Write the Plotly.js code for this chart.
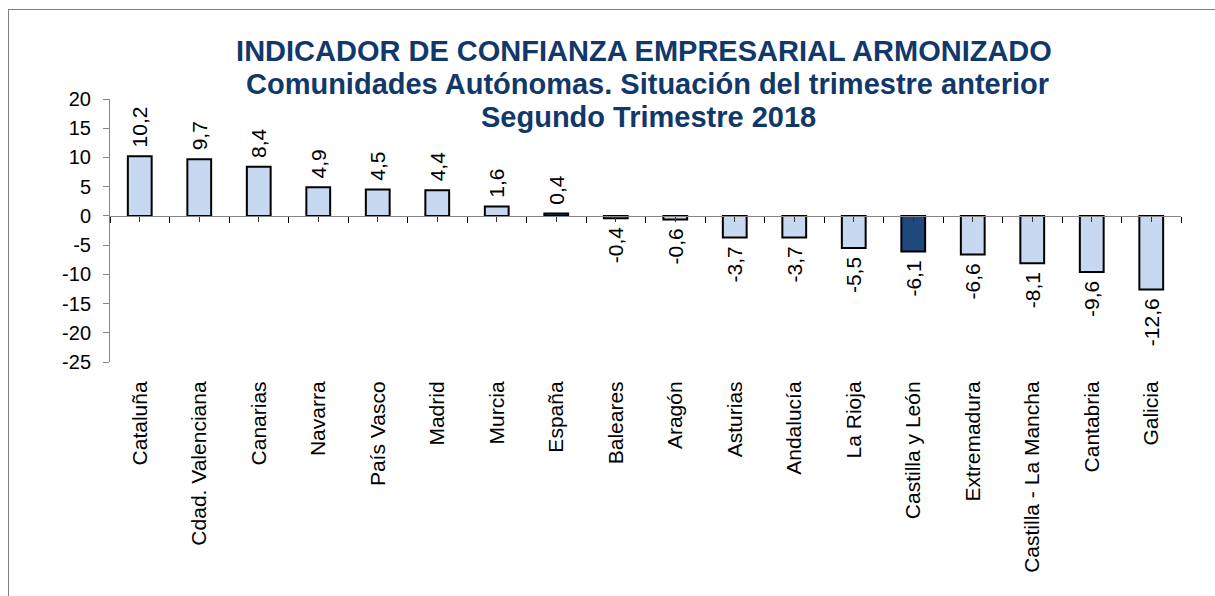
<!DOCTYPE html>
<html>
<head>
<meta charset="utf-8">
<script src="https://cdn.plot.ly/plotly-3.0.1.min.js"></script>
<style>
  html, body { margin: 0; padding: 0; width: 1215px; height: 596px; overflow: hidden; background: #fff; }
  #frame { position: absolute; left: 8px; top: 9px; width: 1400px; height: 800px; border: 1.5px solid #7f7f7f; box-sizing: border-box; pointer-events: none; z-index: 5; }
  #chart { position: absolute; left: 0; top: 0; width: 1215px; height: 596px; }
</style>
</head>
<body>
<div id="chart"></div>
<div id="frame"></div>
<script>
const categories = ["Cataluña", "Cdad. Valenciana", "Canarias", "Navarra", "País Vasco", "Madrid", "Murcia", "España", "Baleares", "Aragón", "Asturias", "Andalucía", "La Rioja", "Castilla y León", "Extremadura", "Castilla - La Mancha", "Cantabria", "Galicia"];
const values = [10.2, 9.7, 8.4, 4.9, 4.5, 4.4, 1.6, 0.4, -0.4, -0.6, -3.7, -3.7, -5.5, -6.1, -6.6, -8.1, -9.6, -12.6];
const highlighted = ["España", "Castilla y León"];
const titleLines = ["INDICADOR DE CONFIANZA EMPRESARIAL ARMONIZADO", "Comunidades Autónomas. Situación del trimestre anterior", "Segundo Trimestre 2018"];
const yTicks = [20, 15, 10, 5, 0, -5, -10, -15, -20, -25];

const lightBlue = "#C6D9F1";
const darkBlue = "#1F497D";
const titleColor = "#12386A";
const font = "Arial, 'Liberation Sans', sans-serif";
const NB = "\u00A0";

// padding space on the bar side of each rotated label
const labels = values.map(v => {
  const s = v.toFixed(1).replace(".", ",");
  return v >= 0 ? NB + s : s + NB;
});
const fills = categories.map(c => highlighted.includes(c) ? darkBlue : lightBlue);

const bars = {
  type: "bar",
  x: categories,
  y: values,
  xaxis: "x2",
  yaxis: "y",
  width: 0.4,
  marker: { color: fills, line: { color: "#000", width: 2 } },
  text: labels,
  textposition: "outside",
  textangle: -90,
  constraintext: "none",
  cliponaxis: false,
  textfont: { family: font, size: 21, color: "#000" },
  hoverinfo: "skip"
};

const labelCarrier = {
  type: "scatter", mode: "markers",
  x: categories, y: values.map(() => 0),
  xaxis: "x", yaxis: "y",
  marker: { opacity: 0, size: 1 }, hoverinfo: "skip", showlegend: false
};
const centerTickCarrier = {
  type: "scatter", mode: "markers",
  x: categories, y: values.map(() => 0),
  xaxis: "x3", yaxis: "y",
  marker: { opacity: 0, size: 1 }, hoverinfo: "skip", showlegend: false
};

// plot area: x 110..1181, y 99..362 (pixels)
const pxX = px => (px - 110) / 1071;
const pxY = py => (362 - py) / 263;

const layout = {
  width: 1215,
  height: 596,
  margin: { l: 110, r: 34, t: 99, b: 234 },
  paper_bgcolor: "#fff",
  plot_bgcolor: "rgba(0,0,0,0)",
  showlegend: false,
  title: {
    text: "<b>" + titleLines[0] + "</b>",
    font: { family: font, size: 29, color: titleColor },
    x: pxX(644),
    xanchor: "center",
    xref: "paper",
    y: 1 - 50.5 / 596,
    yanchor: "middle",
    yref: "container"
  },
  annotations: [
    { text: "<b>" + titleLines[1] + "</b>", xref: "paper", yref: "paper", x: pxX(647), y: pxY(84), xanchor: "center", yanchor: "middle", showarrow: false, font: { family: font, size: 29, color: titleColor } },
    { text: "<b>" + titleLines[2] + "</b>", xref: "paper", yref: "paper", x: pxX(648), y: pxY(117), xanchor: "center", yanchor: "middle", showarrow: false, font: { family: font, size: 29, color: titleColor } }
  ],
  xaxis: {
    type: "category",
    categoryorder: "array",
    categoryarray: categories,
    range: [-0.5, categories.length - 0.5],
    showline: false, showgrid: false, zeroline: false,
    ticks: "outside", ticklen: 10, tickcolor: "rgba(0,0,0,0)",
    tickangle: -90,
    tickfont: { family: font, size: 21, color: "#000" },
    fixedrange: true
  },
  xaxis2: {
    type: "category", overlaying: "x", anchor: "free", position: 25 / 45,
    categoryorder: "array", categoryarray: categories,
    range: [-0.5, categories.length - 0.5],
    showline: true, linecolor: "#868686", linewidth: 1,
    showgrid: false, zeroline: false,
    ticks: "outside", tickson: "boundaries", ticklen: 6, tickwidth: 1, tickcolor: "#000",
    showticklabels: false, fixedrange: true
  },
  xaxis3: {
    type: "category", overlaying: "x", anchor: "free", position: 25 / 45,
    categoryorder: "array", categoryarray: categories,
    range: [-0.5, categories.length - 0.5],
    showline: false, showgrid: false, zeroline: false,
    ticks: "outside", ticklen: 5, tickwidth: 1, tickcolor: "#333",
    showticklabels: false, fixedrange: true
  },
  yaxis: {
    range: [-25, 20],
    tickvals: yTicks,
    ticktext: yTicks.map(String),
    showline: true, linecolor: "#868686", linewidth: 1,
    ticks: "outside", ticklen: 6, tickcolor: "#868686",
    ticklabelstandoff: 8,
    showgrid: false, zeroline: false,
    tickfont: { family: font, size: 20, color: "#000" },
    fixedrange: true
  },
  bargap: 0.6
};

Plotly.newPlot("chart", [labelCarrier, centerTickCarrier, bars], layout, { displayModeBar: false, staticPlot: true });
</script>
</body>
</html>
